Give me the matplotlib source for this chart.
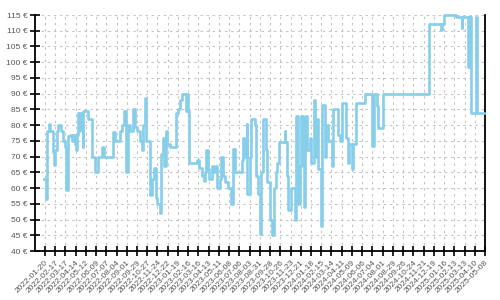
import matplotlib
matplotlib.use("Agg")
import matplotlib.pyplot as plt
import matplotlib.dates as mdates
import pandas as pd

plt.rcParams["font.family"] = ["Liberation Sans", "DejaVu Sans"]

# prix relevés (escalier)
dates = [
    "2022-01-18", "2022-01-22", "2022-01-25", "2022-01-27", "2022-01-30", "2022-02-04",
    "2022-02-10", "2022-02-11", "2022-02-14", "2022-02-17", "2022-02-22", "2022-02-26",
    "2022-03-06", "2022-03-10", "2022-03-15", "2022-03-18", "2022-03-23", "2022-03-29",
    "2022-04-03", "2022-04-07", "2022-04-12", "2022-04-16", "2022-04-18", "2022-04-21",
    "2022-04-24", "2022-04-27", "2022-04-30", "2022-05-03", "2022-05-05", "2022-05-18",
    "2022-05-28", "2022-06-06", "2022-06-13", "2022-06-24", "2022-06-30", "2022-07-26",
    "2022-07-30", "2022-08-13", "2022-08-19", "2022-08-25", "2022-08-31", "2022-09-04",
    "2022-09-11", "2022-09-18", "2022-09-23", "2022-09-28", "2022-10-07", "2022-10-13",
    "2022-10-16", "2022-10-20", "2022-10-25", "2022-11-03", "2022-11-08", "2022-11-15",
    "2022-11-19", "2022-11-21", "2022-11-24", "2022-11-30", "2022-12-03", "2022-12-08",
    "2022-12-12", "2022-12-16", "2022-12-21", "2022-12-28", "2023-01-13", "2023-01-19",
    "2023-01-26", "2023-01-31", "2023-02-09", "2023-02-14", "2023-02-16", "2023-02-18",
    "2023-03-13", "2023-03-17", "2023-03-26", "2023-03-30", "2023-04-02", "2023-04-05",
    "2023-04-10", "2023-04-15", "2023-04-21", "2023-04-28", "2023-05-04", "2023-05-07",
    "2023-05-13", "2023-05-18", "2023-05-22", "2023-05-29", "2023-06-05", "2023-06-14",
    "2023-06-19", "2023-06-23", "2023-07-12", "2023-07-16", "2023-07-21", "2023-07-26",
    "2023-07-28", "2023-08-04", "2023-08-08", "2023-08-17", "2023-08-21", "2023-08-26",
    "2023-08-31", "2023-09-03", "2023-09-09", "2023-09-18", "2023-09-21", "2023-09-27",
    "2023-10-04", "2023-10-09", "2023-10-13", "2023-10-16", "2023-10-22", "2023-11-07",
    "2023-11-09", "2023-11-12", "2023-11-15", "2023-11-24", "2023-12-05", "2023-12-09",
    "2023-12-14", "2023-12-18", "2023-12-21", "2023-12-27", "2023-12-30", "2024-01-01",
    "2024-01-08", "2024-01-14", "2024-01-19", "2024-01-26", "2024-01-30", "2024-02-02",
    "2024-02-06", "2024-02-14", "2024-02-16", "2024-02-25", "2024-02-29", "2024-03-05",
    "2024-03-16", "2024-03-19", "2024-04-01", "2024-04-06", "2024-04-11", "2024-04-23",
    "2024-04-28", "2024-05-02", "2024-05-09", "2024-05-13", "2024-05-19", "2024-06-13",
    "2024-07-02", "2024-07-08", "2024-07-17", "2024-07-20", "2024-08-01", "2024-12-06",
    "2025-01-07", "2025-01-10", "2025-01-15", "2025-02-19", "2025-03-05", "2025-03-07",
    "2025-03-23", "2025-03-25", "2025-03-27", "2025-03-28", "2025-03-31", "2025-04-01",
    "2025-04-13", "2025-04-17", "2025-05-06",
]
prix = [
    63, 56.5, 62, 78, 80.5, 78,
    76, 71.5, 67.5, 72, 78, 80,
    78, 75, 73, 59.5, 76.5, 77,
    75, 77, 74, 72, 77, 84,
    78, 84, 79, 73, 84.5, 82,
    70, 65, 70, 73, 70, 77.7,
    75, 78, 80, 84.5, 65, 80,
    78, 85, 79.5, 78, 75, 72,
    80, 88.5, 75, 57.8, 63, 66.4,
    60, 57, 55, 52, 71, 76,
    67, 78, 74, 73, 84, 85,
    88, 90, 84.5, 90, 84.5, 68,
    69, 66.5, 63.8, 62.3, 65, 72,
    66, 63, 67, 65, 67, 60,
    63, 70, 64, 62, 60, 55,
    72.5, 65, 69, 76, 70, 80.5,
    58, 70, 82, 80, 64, 58,
    45.5, 65, 82, 72, 62, 50,
    45, 60, 65, 68, 74.5, 78,
    74.5, 64, 53, 60, 50, 83,
    55, 67, 83, 67, 54, 83,
    72, 76, 68, 88, 70, 82,
    66, 48, 86.5, 70, 80, 75,
    67, 85, 77, 75, 87, 76,
    68, 74, 66, 74, 87, 90,
    73.5, 90, 86.2, 79, 90, 112,
    110.2, 112, 115, 114.3, 110.8, 114.3,
    98.6, 114.3, 98.6, 114.3, 98.6, 83.8,
    114.3, 83.8, 83.8,
]

debut = pd.Timestamp("2022-01-20")
fin = pd.Timestamp("2025-05-08")
ticks_x = pd.date_range(debut, fin, freq="28D")
ticks_y = list(range(40, 116, 5))

fig = plt.figure(figsize=(5, 3), dpi=100)
ax = fig.add_axes([0.07, 0.163, 0.9, 0.787])

ax.plot(pd.to_datetime(dates), prix, drawstyle="steps-post", color="#87ceeb",
        linewidth=1.9, clip_on=False, zorder=3)

ax.set_xlim(pd.Timestamp("2021-12-24"), fin)
ax.set_ylim(40, 115)
ax.set_xticks(ticks_x)
ax.xaxis.set_major_formatter(mdates.DateFormatter("%Y-%m-%d"))
ax.set_yticks(ticks_y)
ax.set_yticklabels([f"{v} €" for v in ticks_y])

ax.grid(True, color="#c4c4c4", linestyle=(0, (2.2, 3.3)), linewidth=0.8)
ax.set_axisbelow(True)

for s in ["left", "bottom", "right"]:
    ax.spines[s].set_linewidth(1.3)
ax.spines["top"].set_visible(False)

ax.tick_params(axis="both", direction="inout", length=7, width=1.2,
               labelsize=6, labelcolor="#555555", pad=2)
for lab in ax.get_xticklabels():
    lab.set_rotation(45)
    lab.set_ha("right")
    lab.set_rotation_mode("anchor")

fig.savefig("out.png", dpi=100)
